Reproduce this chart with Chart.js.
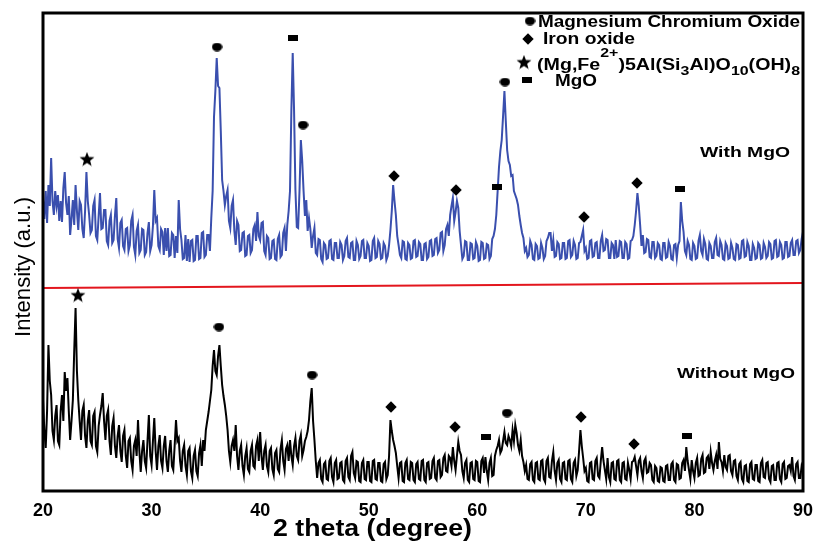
<!DOCTYPE html>
<html>
<head>
    <meta charset="utf-8"/>
    <title>XRD patterns</title>
    <script src="https://cdn.jsdelivr.net/npm/chart.js"></script>
    <style>
        html, body { margin: 0; padding: 0; background: #fff; }
        #wrap { width: 816px; height: 541px; }
    </style>
</head>
<body>
<div id="wrap"><canvas id="xrdChart"></canvas></div>

<script type="text/javascript">
// 2 theta grid of the scans (degrees)
const startAngle = 20;
const angleStep = 0.125;
const xTicks = [20, 30, 40, 50, 60, 70, 80, 90];

// "With MgO" pattern, arbitrary units, one row per degree (8 readings per degree)
const withMgO = [
    291, 272, 300, 268, 306, 285, 333, 290,
    276, 300, 285, 296, 270, 290, 269, 303,
    319, 288, 276, 295, 256, 272, 291, 266,
    306, 280, 261, 290, 286, 262, 253, 280,
    319, 290, 276, 258, 261, 285, 291, 255,
    251, 275, 298, 262, 263, 281, 281, 250,
    246, 270, 276, 248, 251, 275, 293, 252,
    243, 268, 271, 245, 241, 262, 263, 240,
    246, 270, 276, 244, 236, 260, 266, 238,
    241, 262, 261, 236, 239, 258, 269, 240,
    246, 265, 301, 270, 273, 245, 241, 262,
    259, 236, 263, 240, 263, 235, 236, 258,
    256, 233, 255, 238, 291, 262, 251, 232,
    233, 256, 230, 252, 229, 250, 251, 230,
    231, 255, 255, 232, 233, 258, 259, 234,
    236, 256, 256, 240, 273, 300, 374, 400,
    433, 405, 403, 360, 311, 300, 286, 295,
    301, 270, 263, 285, 291, 260, 246, 270,
    266, 240, 241, 258, 259, 235, 236, 255,
    256, 238, 241, 262, 266, 250, 279, 255,
    251, 268, 269, 240, 236, 255, 253, 232,
    233, 250, 251, 232, 231, 252, 256, 234,
    236, 258, 263, 240, 266, 280, 300, 380,
    438, 380, 301, 264, 263, 300, 351, 330,
    300, 275, 291, 260, 273, 262, 243, 255,
    263, 238, 236, 252, 251, 232, 229, 248,
    246, 232, 233, 250, 251, 232, 231, 248,
    248, 233, 233, 249, 246, 231, 235, 250,
    253, 234, 233, 248, 249, 231, 231, 250,
    246, 232, 235, 250, 251, 233, 233, 248,
    245, 230, 231, 250, 253, 233, 234, 250,
    247, 232, 233, 248, 245, 231, 235, 246,
    261, 280, 306, 290, 276, 255, 246, 236,
    233, 250, 249, 232, 231, 248, 246, 232,
    233, 250, 251, 234, 235, 249, 247, 231,
    231, 247, 248, 232, 234, 250, 251, 235,
    236, 252, 253, 238, 241, 258, 259, 240,
    246, 262, 266, 255, 276, 285, 293, 270,
    279, 290, 283, 260, 246, 232, 235, 250,
    249, 231, 231, 248, 247, 232, 233, 249,
    245, 230, 231, 249, 248, 232, 233, 247,
    246, 232, 235, 252, 255, 262, 276, 300,
    324, 340, 351, 375, 400, 370, 341, 330,
    326, 315, 316, 300, 296, 292, 286, 275,
    266, 258, 253, 240, 243, 234, 236, 250,
    246, 232, 231, 247, 245, 232, 233, 248,
    243, 232, 235, 250, 253, 258, 258, 240,
    251, 234, 235, 249, 247, 232, 233, 248,
    248, 232, 233, 250, 251, 234, 236, 250,
    246, 232, 233, 248, 249, 255, 261, 240,
    243, 232, 233, 250, 251, 234, 235, 248,
    249, 233, 233, 250, 256, 240, 241, 252,
    251, 233, 233, 248, 246, 232, 251, 234,
    235, 250, 249, 233, 233, 249, 247, 232,
    233, 250, 251, 255, 266, 280, 298, 285,
    266, 245, 256, 238, 239, 252, 251, 234,
    233, 249, 249, 233, 235, 248, 246, 232,
    231, 248, 248, 233, 234, 249, 245, 232,
    231, 246, 247, 233, 246, 250, 289, 270,
    259, 240, 236, 250, 246, 232, 231, 248,
    245, 232, 233, 250, 256, 240, 236, 252,
    247, 232, 231, 248, 245, 233, 233, 249,
    253, 236, 235, 250, 246, 232, 231, 248,
    245, 232, 233, 248, 243, 232, 231, 247,
    246, 232, 233, 250, 251, 234, 235, 249,
    245, 231, 231, 247, 243, 232, 233, 248,
    246, 232, 233, 248, 244, 233, 235, 249,
    247, 232, 233, 250, 251, 234, 235, 249,
    246, 232, 233, 249, 249, 234, 235, 248,
    251, 236, 236, 250, 251, 238, 241, 252,
    259
];

// "Without MgO" pattern, same grid
const withoutMgO = [
    91, 60, 43, 80, 146, 110, 96, 60,
    51, 75, 86, 50, 46, 80, 96, 70,
    119, 100, 113, 80, 51, 70, 91, 140,
    183, 120, 91, 70, 51, 80, 86, 55,
    43, 70, 81, 50, 46, 75, 79, 45,
    39, 65, 76, 85, 98, 70, 51, 75,
    81, 50, 36, 65, 73, 45, 33, 55,
    66, 40, 29, 55, 61, 35, 23, 50,
    53, 30, 21, 45, 51, 35, 71, 40,
    19, 40, 51, 30, 23, 50, 76, 35,
    26, 50, 73, 40, 21, 45, 56, 30,
    23, 45, 55, 30, 19, 40, 51, 25,
    21, 45, 71, 50, 53, 30, 19, 40,
    46, 25, 16, 40, 43, 20, 13, 35,
    41, 20, 15, 38, 46, 25, 51, 40,
    61, 70, 79, 90, 101, 125, 141, 120,
    116, 135, 146, 125, 106, 95, 86, 75,
    61, 40, 29, 45, 51, 40, 66, 35,
    21, 40, 46, 25, 16, 35, 43, 22,
    19, 40, 46, 25, 23, 45, 51, 30,
    59, 35, 21, 40, 46, 25, 19, 40,
    43, 22, 16, 38, 41, 22, 19, 42,
    51, 30, 21, 42, 46, 30, 51, 35,
    26, 45, 53, 35, 31, 50, 56, 35,
    41, 50, 54, 60, 71, 90, 103, 70,
    51, 30, 13, 28, 31, 12, 9, 27,
    29, 12, 11, 30, 33, 14, 9, 28,
    31, 12, 13, 28, 29, 11, 9, 30,
    33, 14, 11, 35, 39, 18, 13, 30,
    29, 10, 9, 28, 31, 12, 11, 29,
    29, 10, 9, 30, 31, 12, 11, 28,
    28, 10, 9, 27, 29, 12, 16, 35,
    71, 60, 51, 45, 38, 25, 13, 28,
    29, 10, 9, 28, 31, 12, 11, 29,
    28, 11, 9, 27, 29, 12, 11, 30,
    31, 11, 9, 28, 29, 12, 13, 30,
    33, 13, 11, 30, 31, 14, 16, 33,
    36, 20, 19, 35, 33, 25, 44, 30,
    21, 35, 49, 40, 36, 20, 13, 28,
    31, 11, 9, 28, 29, 12, 11, 30,
    29, 10, 9, 30, 33, 18, 34, 20,
    11, 28, 33, 15, 16, 35, 41, 45,
    51, 38, 41, 50, 59, 48, 46, 55,
    51, 45, 61, 50, 66, 58, 46, 40,
    51, 35, 29, 20, 26, 12, 11, 27,
    29, 11, 9, 28, 29, 12, 11, 30,
    31, 12, 9, 30, 33, 14, 13, 30,
    39, 20, 11, 28, 31, 12, 9, 28,
    29, 12, 11, 30, 31, 12, 9, 28,
    31, 15, 21, 40, 61, 45, 33, 20,
    23, 10, 9, 28, 29, 12, 11, 30,
    33, 15, 13, 30, 44, 30, 21, 12,
    33, 14, 9, 28, 29, 12, 11, 30,
    31, 11, 9, 28, 29, 12, 11, 28,
    21, 12, 29, 30, 34, 25, 16, 30,
    33, 20, 13, 30, 33, 18, 19, 28,
    26, 11, 9, 25, 23, 10, 9, 24,
    23, 10, 9, 25, 26, 11, 11, 27,
    29, 11, 9, 27, 26, 12, 13, 28,
    31, 20, 44, 30, 21, 12, 31, 20,
    13, 28, 33, 15, 16, 32, 36, 18,
    19, 33, 35, 22, 39, 28, 21, 30,
    36, 22, 49, 32, 29, 20, 36, 24,
    21, 35, 36, 20, 16, 30, 31, 15,
    11, 27, 29, 12, 9, 25, 26, 10,
    9, 27, 29, 12, 11, 26, 26, 10,
    9, 28, 31, 14, 13, 28, 29, 12,
    9, 25, 26, 11, 11, 28, 29, 12,
    9, 27, 29, 12, 13, 25, 26, 20,
    34, 15, 11, 27, 29, 13, 13, 25,
    21
];

// red divider between the two patterns (value at 20 and at 90 degrees)
const dividerAngles = [20, 90];
const dividerLevels = [203, 208];

// phase marks above the peaks
const withPhase  = ['star', 'circle', 'square', 'circle', 'diamond', 'diamond', 'square', 'circle', 'diamond', 'diamond', 'square'];
const withAngle  = [24.05, 36.03, 43.03, 43.95, 52.33, 58.04, 61.82, 62.55, 69.83, 74.71, 78.67];
const withLevel  = [332, 444, 453, 366, 315, 301, 304, 409, 274, 308, 302];

const withoutPhase = ['star', 'circle', 'circle', 'diamond', 'diamond', 'square', 'circle', 'diamond', 'diamond', 'square'];
const withoutAngle = [23.22, 36.21, 44.78, 52.05, 57.95, 60.80, 62.74, 69.55, 74.43, 79.32];
const withoutLevel = [196, 164, 116, 84, 64, 54, 78, 74, 47, 55];

const FONT = "'Liberation Sans', Arial, sans-serif";

// small black glyphs used as point styles
function makeMarker(kind) {
    const c = document.createElement('canvas');
    if (kind === 'circle') { c.width = 11; c.height = 9; }
    else if (kind === 'diamond') { c.width = 12; c.height = 12; }
    else if (kind === 'star') { c.width = 16; c.height = 15; }
    else { c.width = 10; c.height = 6; }
    const g = c.getContext('2d');
    g.fillStyle = '#000';
    g.beginPath();
    if (kind === 'circle') {
        g.ellipse(5.5, 4.5, 5.2, 4.2, 0, 0, 2 * Math.PI);
    } else if (kind === 'diamond') {
        g.moveTo(6, 0.3); g.lineTo(11.7, 6); g.lineTo(6, 11.7); g.lineTo(0.3, 6); g.closePath();
    } else if (kind === 'star') {
        for (let i = 0; i < 10; i++) {
            const r = i % 2 ? 3.3 : 7.8;
            const a = -Math.PI / 2 + i * Math.PI / 5;
            const px = 8 + r * Math.cos(a), py = 8.2 + r * Math.sin(a);
            if (i === 0) g.moveTo(px, py); else g.lineTo(px, py);
        }
        g.closePath();
    } else {
        g.rect(0, 0, 10, 6);
    }
    g.fill();
    return c;
}
const markers = {
    circle: makeMarker('circle'),
    diamond: makeMarker('diamond'),
    star: makeMarker('star'),
    square: makeMarker('square')
};

// draws a row of text runs (normal / sup / sub) squeezed to a given width
function drawRuns(ctx, runs, x, y, width, size, weight) {
    const w8 = weight || 'bold';
    const small = Math.round(size * 0.8);
    let total = 0;
    runs.forEach(r => {
        ctx.font = w8 + ' ' + (r.s ? small : size) + 'px ' + FONT;
        r.w = ctx.measureText(r.t).width;
        total += r.w;
    });
    ctx.save();
    ctx.translate(x, y);
    ctx.scale(width / total, 1);
    let cx = 0;
    runs.forEach(r => {
        ctx.font = w8 + ' ' + (r.s ? small : size) + 'px ' + FONT;
        const dy = r.s === 'sup' ? -13 : (r.s === 'sub' ? 5 : 0);
        ctx.fillText(r.t, cx, dy);
        cx += r.w;
    });
    ctx.restore();
}

const frameAndLabels = {
    id: 'frameAndLabels',
    afterDraw(chart) {
        const ctx = chart.ctx;
        const a = chart.chartArea;
        ctx.save();
        // plot frame
        ctx.strokeStyle = '#000';
        ctx.lineWidth = 3;
        ctx.strokeRect(a.left, a.top, a.right - a.left, a.bottom - a.top);

        ctx.fillStyle = '#000';
        ctx.textBaseline = 'alphabetic';
        ctx.textAlign = 'left';

        // axis titles
        drawRuns(ctx, [{ t: '2 theta (degree)' }], 273, 536, 199, 23);
        ctx.save();
        ctx.translate(30, 337);
        ctx.rotate(-Math.PI / 2);
        drawRuns(ctx, [{ t: 'Intensity (a.u.)' }], 0, 0, 140, 22, 'normal');
        ctx.restore();

        // phase key in the top right corner
        const keyMarks = [['circle', 530, 21], ['diamond', 528, 39], ['star', 524, 62], ['square', 527, 80]];
        keyMarks.forEach(k => {
            const m = markers[k[0]];
            ctx.drawImage(m, k[1] - m.width / 2, k[2] - m.height / 2);
        });
        drawRuns(ctx, [{ t: 'Magnesium Chromium Oxide' }], 538, 27, 262, 16);
        drawRuns(ctx, [{ t: 'Iron oxide' }], 543, 44, 92, 16);
        drawRuns(ctx, [
            { t: '(Mg,Fe' }, { t: '2+', s: 'sup' }, { t: ')5Al(Si' }, { t: '3', s: 'sub' },
            { t: 'Al)O' }, { t: '10', s: 'sub' }, { t: '(OH)' }, { t: '8', s: 'sub' }
        ], 537, 70, 263, 16);
        drawRuns(ctx, [{ t: 'MgO' }], 555, 86, 42, 16);

        // sample names
        drawRuns(ctx, [{ t: 'With MgO' }], 700, 157, 90, 15);
        drawRuns(ctx, [{ t: 'Without MgO' }], 677, 378, 118, 15);
        ctx.restore();
    }
};

function toPoints(values) {
    return values.map((v, i) => ({ x: startAngle + i * angleStep, y: v }));
}
function markPoints(angles, levels) {
    return angles.map((x, i) => ({ x: x, y: levels[i] }));
}

const ctx = document.getElementById('xrdChart').getContext('2d');
const xrdChart = new Chart(ctx, {
    type: 'line',
    data: {
        datasets: [
            {
                type: 'scatter',
                label: 'With MgO phases',
                data: markPoints(withAngle, withLevel),
                pointStyle: withPhase.map(p => markers[p]),
                pointRadius: 5,
                showLine: false
            },
            {
                type: 'scatter',
                label: 'Without MgO phases',
                data: markPoints(withoutAngle, withoutLevel),
                pointStyle: withoutPhase.map(p => markers[p]),
                pointRadius: 5,
                showLine: false
            },
            {
                label: 'With MgO',
                data: toPoints(withMgO),
                borderColor: '#3a4fae',
                borderWidth: 2,
                pointRadius: 0,
                tension: 0
            },
            {
                label: 'Without MgO',
                data: toPoints(withoutMgO),
                borderColor: '#000000',
                borderWidth: 2,
                pointRadius: 0,
                tension: 0
            },
            {
                label: 'divider',
                data: markPoints(dividerAngles, dividerLevels),
                borderColor: '#e3161e',
                borderWidth: 2,
                pointRadius: 0
            }
        ]
    },
    options: {
        animation: false,
        responsive: true,
        maintainAspectRatio: false,
        layout: { padding: { top: 13, right: 13, left: 0, bottom: 0 } },
        plugins: {
            legend: { display: false },
            tooltip: { enabled: false }
        },
        scales: {
            x: {
                type: 'linear',
                min: 20,
                max: 90,
                afterBuildTicks: axis => { axis.ticks = xTicks.map(v => ({ value: v })); },
                ticks: {
                    padding: 9,
                    color: '#000',
                    font: { family: FONT, size: 18, weight: 'bold' }
                },
                grid: { display: false, drawTicks: false },
                border: { display: false },
                // title is painted by the plugin (it sits left of centre in the original)
                title: { display: false, text: '2 theta (degree)' },
                afterFit: axis => {
                    axis.height = 50;
                    axis.paddingLeft = 0;
                    axis.paddingRight = 0;
                }
            },
            y: {
                min: 0,
                max: 478,
                ticks: { display: false },
                grid: { display: false, drawTicks: false },
                border: { display: false },
                title: { display: false, text: 'Intensity (a.u.)' },
                afterFit: axis => { axis.width = 43; }
            }
        }
    },
    plugins: [frameAndLabels]
});
</script>
</body>
</html>
